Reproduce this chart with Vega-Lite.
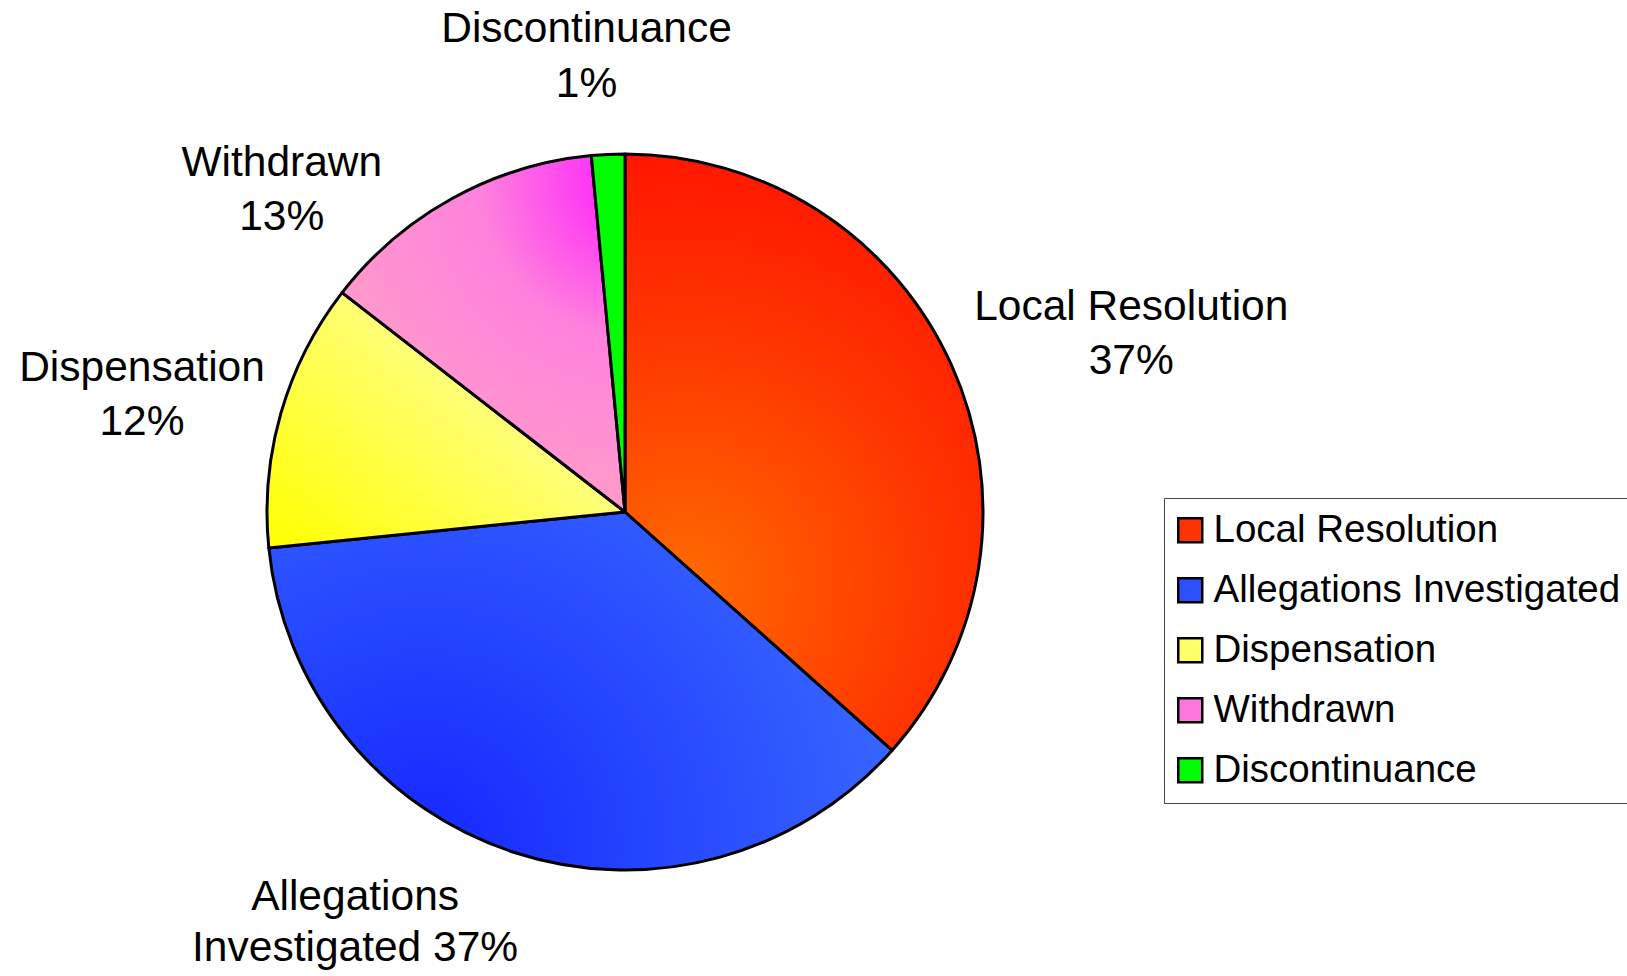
{
  "$schema": "https://vega.github.io/schema/vega-lite/v6.json",
  "width": 1250,
  "height": 1024,
  "padding": {"left": 0, "top": 0, "right": 0, "bottom": 0},
  "autosize": {"type": "pad"},
  "background": "white",
  "config": {"view": {"stroke": null}, "font": "Liberation Sans"},
  "data": {
    "values": [
      {"category": "Local Resolution", "value": 36.6, "label": "Local Resolution\n37%"},
      {"category": "Allegations Investigated", "value": 36.8, "label": "Allegations\nInvestigated 37%"},
      {"category": "Dispensation", "value": 12.1, "label": "Dispensation\n12%"},
      {"category": "Withdrawn", "value": 13.0, "label": "Withdrawn\n13%"},
      {"category": "Discontinuance", "value": 1.5, "label": "Discontinuance\n1%"}
    ]
  },
  "transform": [
    {"window": [{"op": "row_number", "as": "idx"}]},
    {"stack": "value", "groupby": [], "sort": [{"field": "idx", "order": "ascending"}], "as": ["v0", "v1"]}
  ],
  "layer": [
    {
      "mark": {"type": "arc", "outerRadius": 358},
      "encoding": {
        "theta": {"field": "v0", "type": "quantitative", "scale": {"domain": [0, 100]}},
        "theta2": {"field": "v1"},
        "color": {
          "field": "category",
          "type": "nominal",
          "sort": ["Local Resolution", "Allegations Investigated", "Dispensation", "Withdrawn", "Discontinuance"],
          "scale": {
            "domain": ["Local Resolution", "Allegations Investigated", "Dispensation", "Withdrawn", "Discontinuance"],
            "range": ["#FF3300", "#2A50FF", "#FFFF66", "#FF77DD", "#00FF00"]
          },
          "legend": {
            "title": null,
            "orient": "none",
            "legendX": 1164,
            "legendY": 498,
            "padding": 13,
            "strokeColor": "#444444",
            "fillColor": "white",
            "symbolType": "square",
            "symbolSize": 576,
            "symbolStrokeColor": "black",
            "symbolStrokeWidth": 2.5,
            "symbolOpacity": 1,
            "symbolOffset": -6,
            "labelFont": "Liberation Sans",
            "labelFontSize": 38.5,
            "labelColor": "black",
            "labelOffset": 4,
            "labelLimit": 600,
            "rowPadding": 21
          }
        }
      }
    },
    {
      "mark": {"type": "arc", "outerRadius": 358, "stroke": "black", "strokeWidth": 3, "strokeJoin": "round"},
      "encoding": {
        "theta": {"field": "v0", "type": "quantitative"},
        "theta2": {"field": "v1"},
        "fill": {
          "condition": [
            {"test": "datum.category === 'Local Resolution'", "value": {"gradient": "radial", "x1": 0.3, "y1": 0.72, "r1": 0, "x2": 0.3, "y2": 0.72, "r2": 0.8, "stops": [{"offset": 0, "color": "#FF6A00"}, {"offset": 0.5, "color": "#FF3800"}, {"offset": 1, "color": "#FF0E00"}]}},
            {"test": "datum.category === 'Allegations Investigated'", "value": {"gradient": "radial", "x1": 0.25, "y1": 0.75, "r1": 0, "x2": 0.25, "y2": 0.75, "r2": 0.8, "stops": [{"offset": 0, "color": "#1528FF"}, {"offset": 1, "color": "#3868FF"}]}},
            {"test": "datum.category === 'Dispensation'", "value": {"gradient": "linear", "x1": 0, "y1": 1, "x2": 0.8, "y2": 0.3, "stops": [{"offset": 0, "color": "#FFFF00"}, {"offset": 1, "color": "#FFFF99"}]}},
            {"test": "datum.category === 'Withdrawn'", "value": {"gradient": "radial", "x1": 0.92, "y1": 0.08, "r1": 0, "x2": 0.92, "y2": 0.08, "r2": 0.85, "stops": [{"offset": 0, "color": "#FF1AFF"}, {"offset": 0.5, "color": "#FF80DD"}, {"offset": 1, "color": "#FF99CC"}]}}
          ],
          "value": "#00FF00"
        }
      }
    },
    {
      "transform": [{"filter": "datum.category === 'Local Resolution'"}],
      "mark": {"type": "text", "radius": 546, "thetaOffset": 1.1868, "fontSize": 42.5, "lineHeight": 54, "lineBreak": "\n", "align": "center", "baseline": "middle", "color": "black"},
      "encoding": {"theta": {"field": "v0", "type": "quantitative"}, "text": {"field": "label"}}
    },
    {
      "transform": [{"filter": "datum.category === 'Allegations Investigated'"}],
      "mark": {"type": "text", "radius": 470.6, "thetaOffset": 1.4528, "fontSize": 42.5, "lineHeight": 51, "lineBreak": "\n", "align": "center", "baseline": "middle", "color": "black"},
      "encoding": {"theta": {"field": "v0", "type": "quantitative"}, "text": {"field": "label"}}
    },
    {
      "transform": [{"filter": "datum.category === 'Dispensation'"}],
      "mark": {"type": "text", "radius": 504, "thetaOffset": 0.3903, "fontSize": 42.5, "lineHeight": 54, "lineBreak": "\n", "align": "center", "baseline": "middle", "color": "black"},
      "encoding": {"theta": {"field": "v0", "type": "quantitative"}, "text": {"field": "label"}}
    },
    {
      "transform": [{"filter": "datum.category === 'Withdrawn'"}],
      "mark": {"type": "text", "radius": 489.7, "thetaOffset": 0.1344, "fontSize": 42.5, "lineHeight": 54, "lineBreak": "\n", "align": "center", "baseline": "middle", "color": "black"},
      "encoding": {"theta": {"field": "v0", "type": "quantitative"}, "text": {"field": "label"}}
    },
    {
      "transform": [{"filter": "datum.category === 'Discontinuance'"}],
      "mark": {"type": "text", "radius": 484.5, "thetaOffset": 0.0147, "fontSize": 42.5, "lineHeight": 55, "lineBreak": "\n", "align": "center", "baseline": "middle", "color": "black"},
      "encoding": {"theta": {"field": "v0", "type": "quantitative"}, "text": {"field": "label"}}
    }
  ]
}
